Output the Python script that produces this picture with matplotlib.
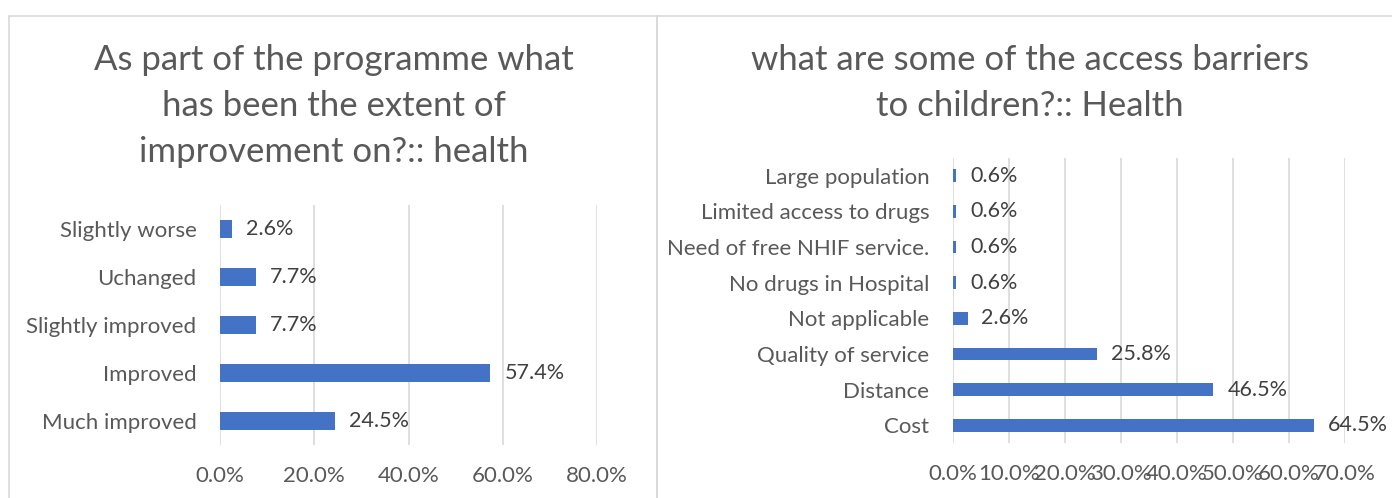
import matplotlib
matplotlib.use("Agg")
import matplotlib.pyplot as plt
from matplotlib.ticker import PercentFormatter
from matplotlib.patches import Rectangle

plt.rcParams['font.family'] = ['Lato', 'DejaVu Sans']

# Left chart: extent of improvement on health
improve_cats = ["Much improved", "Improved", "Slightly improved", "Uchanged", "Slightly worse"]
improve_vals = [24.5, 57.4, 7.7, 7.7, 2.6]
improve_ticks = [0, 20, 40, 60, 80]

# Right chart: access barriers to children's health
barrier_cats = ["Cost", "Distance", "Quality of service", "Not applicable",
                "No drugs in Hospital", "Need of free NHIF service.",
                "Limited access to drugs", "Large population"]
barrier_vals = [64.5, 46.5, 25.8, 2.6, 0.6, 0.6, 0.6, 0.6]
barrier_ticks = [0, 10, 20, 30, 40, 50, 60, 70]

BAR = "#4472C4"
GRID = "#D9D9D9"
TXT = "#595959"
LBL = "#404040"

W, H = 1392, 498
fig = plt.figure(figsize=(W / 100, H / 100), dpi=100)

# chart frames
for x0, x1 in [(9, 657), (657, 1400)]:
    fig.patches.append(Rectangle((x0 / W, -0.1), (x1 - x0) / W, 1.1 - 16 / H,
                                 transform=fig.transFigure, fill=False,
                                 edgecolor=GRID, linewidth=1.2))


def bar_panel(rect, cats, vals, ticks, xmax, tick_fs, cat_fs, lbl_fs):
    ax = fig.add_axes(rect)
    y = range(len(cats))
    ax.barh(y, vals, height=0.355, color=BAR, zorder=3)
    ax.set_xlim(0, xmax)
    ax.set_ylim(-0.5, len(cats) - 0.5)
    ax.set_xticks(ticks)
    ax.xaxis.set_major_formatter(PercentFormatter(decimals=1))
    ax.set_yticks(list(y))
    ax.set_yticklabels(cats)
    ax.grid(axis='x', color=GRID, linewidth=1.2, zorder=0)
    for s in ax.spines.values():
        s.set_visible(False)
    ax.tick_params(axis='x', length=0, pad=15, labelsize=tick_fs, labelcolor=TXT)
    ax.tick_params(axis='y', length=0, pad=17, labelsize=cat_fs, labelcolor=TXT)
    for yi, v in zip(y, vals):
        ax.annotate(f"{v:.1f}%", (v, yi), xytext=(10, 0), textcoords='offset points',
                    va='center', ha='left', fontsize=lbl_fs, color=LBL)
    return ax


bar_panel([220 / W, 1 - 445 / H, 377 / W, 240 / H],
          improve_cats, improve_vals, improve_ticks, 80, 16, 16, 15.5)
bar_panel([953 / W, 1 - 443 / H, 392 / W, 285 / H],
          barrier_cats, barrier_vals, barrier_ticks, 70, 16, 16, 15.5)

fig.text(334 / W, 1 - 106 / H,
         "As part of the programme what\nhas been the extent of\nimprovement on?:: health",
         ha='center', va='center', fontsize=25, color=TXT, linespacing=1.55)
fig.text(1030 / W, 1 - 83 / H,
         "what are some of the access barriers\nto children?:: Health",
         ha='center', va='center', fontsize=25, color=TXT, linespacing=1.55)

fig.savefig("out.png", dpi=100, facecolor="white")
